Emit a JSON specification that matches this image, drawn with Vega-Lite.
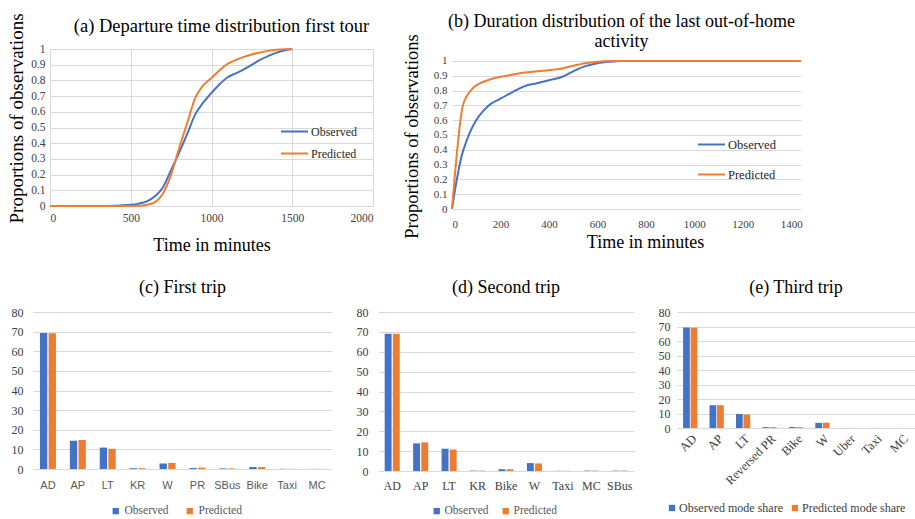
{
  "$schema": "https://vega.github.io/schema/vega-lite/v6.json",
  "background": "white",
  "padding": {"left": 7, "top": 12, "right": 0, "bottom": 0},
  "config": {
    "view": {"stroke": null},
    "font": "Liberation Serif",
    "axis": {"domain": false, "ticks": false, "tickSize": 0, "gridColor": "#d9d9d9", "gridWidth": 1, "labelFont": "Liberation Serif", "labelColor": "#404040", "titleFont": "Liberation Serif", "titleFontWeight": "normal", "titleColor": "#000000"},
    "title": {"font": "Liberation Serif", "fontWeight": "normal", "fontSize": 18, "color": "#000000", "anchor": "middle", "frame": "group", "baseline": "bottom"},
    "legend": {"labelFont": "Liberation Serif", "title": null}
  },
  "datasets": {
    "depart": [
      {"minutes": 0, "share": 0, "series": "Observed"},
      {"minutes": 100, "share": 0, "series": "Observed"},
      {"minutes": 200, "share": 0, "series": "Observed"},
      {"minutes": 300, "share": 0, "series": "Observed"},
      {"minutes": 400, "share": 0.002, "series": "Observed"},
      {"minutes": 450, "share": 0.004, "series": "Observed"},
      {"minutes": 500, "share": 0.008, "series": "Observed"},
      {"minutes": 550, "share": 0.015, "series": "Observed"},
      {"minutes": 600, "share": 0.03, "series": "Observed"},
      {"minutes": 650, "share": 0.062, "series": "Observed"},
      {"minutes": 700, "share": 0.12, "series": "Observed"},
      {"minutes": 750, "share": 0.23, "series": "Observed"},
      {"minutes": 800, "share": 0.34, "series": "Observed"},
      {"minutes": 850, "share": 0.46, "series": "Observed"},
      {"minutes": 900, "share": 0.585, "series": "Observed"},
      {"minutes": 950, "share": 0.66, "series": "Observed"},
      {"minutes": 1000, "share": 0.72, "series": "Observed"},
      {"minutes": 1050, "share": 0.775, "series": "Observed"},
      {"minutes": 1100, "share": 0.82, "series": "Observed"},
      {"minutes": 1150, "share": 0.845, "series": "Observed"},
      {"minutes": 1200, "share": 0.87, "series": "Observed"},
      {"minutes": 1250, "share": 0.9, "series": "Observed"},
      {"minutes": 1300, "share": 0.93, "series": "Observed"},
      {"minutes": 1350, "share": 0.955, "series": "Observed"},
      {"minutes": 1400, "share": 0.975, "series": "Observed"},
      {"minutes": 1450, "share": 0.99, "series": "Observed"},
      {"minutes": 1500, "share": 1.0, "series": "Observed"},
      {"minutes": 0, "share": 0, "series": "Predicted"},
      {"minutes": 100, "share": 0, "series": "Predicted"},
      {"minutes": 200, "share": 0, "series": "Predicted"},
      {"minutes": 300, "share": 0, "series": "Predicted"},
      {"minutes": 400, "share": 0, "series": "Predicted"},
      {"minutes": 500, "share": 0, "series": "Predicted"},
      {"minutes": 550, "share": 0.001, "series": "Predicted"},
      {"minutes": 600, "share": 0.008, "series": "Predicted"},
      {"minutes": 650, "share": 0.025, "series": "Predicted"},
      {"minutes": 700, "share": 0.08, "series": "Predicted"},
      {"minutes": 750, "share": 0.2, "series": "Predicted"},
      {"minutes": 800, "share": 0.37, "series": "Predicted"},
      {"minutes": 850, "share": 0.53, "series": "Predicted"},
      {"minutes": 900, "share": 0.69, "series": "Predicted"},
      {"minutes": 950, "share": 0.77, "series": "Predicted"},
      {"minutes": 1000, "share": 0.815, "series": "Predicted"},
      {"minutes": 1050, "share": 0.865, "series": "Predicted"},
      {"minutes": 1100, "share": 0.905, "series": "Predicted"},
      {"minutes": 1150, "share": 0.93, "series": "Predicted"},
      {"minutes": 1200, "share": 0.95, "series": "Predicted"},
      {"minutes": 1250, "share": 0.965, "series": "Predicted"},
      {"minutes": 1300, "share": 0.978, "series": "Predicted"},
      {"minutes": 1350, "share": 0.988, "series": "Predicted"},
      {"minutes": 1400, "share": 0.995, "series": "Predicted"},
      {"minutes": 1450, "share": 0.999, "series": "Predicted"},
      {"minutes": 1500, "share": 1.0, "series": "Predicted"}
    ],
    "duration": [
      {"minutes": 0, "share": 0, "series": "Observed"},
      {"minutes": 20, "share": 0.2, "series": "Observed"},
      {"minutes": 40, "share": 0.36, "series": "Observed"},
      {"minutes": 60, "share": 0.46, "series": "Observed"},
      {"minutes": 80, "share": 0.54, "series": "Observed"},
      {"minutes": 100, "share": 0.6, "series": "Observed"},
      {"minutes": 130, "share": 0.665, "series": "Observed"},
      {"minutes": 160, "share": 0.71, "series": "Observed"},
      {"minutes": 200, "share": 0.745, "series": "Observed"},
      {"minutes": 250, "share": 0.79, "series": "Observed"},
      {"minutes": 300, "share": 0.83, "series": "Observed"},
      {"minutes": 350, "share": 0.85, "series": "Observed"},
      {"minutes": 400, "share": 0.87, "series": "Observed"},
      {"minutes": 450, "share": 0.89, "series": "Observed"},
      {"minutes": 500, "share": 0.93, "series": "Observed"},
      {"minutes": 550, "share": 0.965, "series": "Observed"},
      {"minutes": 600, "share": 0.985, "series": "Observed"},
      {"minutes": 650, "share": 0.995, "series": "Observed"},
      {"minutes": 700, "share": 1.0, "series": "Observed"},
      {"minutes": 800, "share": 1.0, "series": "Observed"},
      {"minutes": 1000, "share": 1.0, "series": "Observed"},
      {"minutes": 1200, "share": 1.0, "series": "Observed"},
      {"minutes": 1440, "share": 1.0, "series": "Observed"},
      {"minutes": 0, "share": 0, "series": "Predicted"},
      {"minutes": 45, "share": 0.7, "series": "Predicted"},
      {"minutes": 60, "share": 0.76, "series": "Predicted"},
      {"minutes": 80, "share": 0.805, "series": "Predicted"},
      {"minutes": 100, "share": 0.835, "series": "Predicted"},
      {"minutes": 120, "share": 0.853, "series": "Predicted"},
      {"minutes": 150, "share": 0.872, "series": "Predicted"},
      {"minutes": 200, "share": 0.893, "series": "Predicted"},
      {"minutes": 250, "share": 0.908, "series": "Predicted"},
      {"minutes": 300, "share": 0.922, "series": "Predicted"},
      {"minutes": 350, "share": 0.93, "series": "Predicted"},
      {"minutes": 400, "share": 0.938, "series": "Predicted"},
      {"minutes": 450, "share": 0.948, "series": "Predicted"},
      {"minutes": 500, "share": 0.968, "series": "Predicted"},
      {"minutes": 550, "share": 0.985, "series": "Predicted"},
      {"minutes": 600, "share": 0.995, "series": "Predicted"},
      {"minutes": 650, "share": 1.0, "series": "Predicted"},
      {"minutes": 800, "share": 1.0, "series": "Predicted"},
      {"minutes": 1000, "share": 1.0, "series": "Predicted"},
      {"minutes": 1200, "share": 1.0, "series": "Predicted"},
      {"minutes": 1440, "share": 1.0, "series": "Predicted"}
    ],
    "trip1": [
      {"mode": "AD", "series": "Observed", "share": 69.3}, {"mode": "AD", "series": "Predicted", "share": 69.2},
      {"mode": "AP", "series": "Observed", "share": 14.4}, {"mode": "AP", "series": "Predicted", "share": 14.8},
      {"mode": "LT", "series": "Observed", "share": 10.9}, {"mode": "LT", "series": "Predicted", "share": 10.3},
      {"mode": "KR", "series": "Observed", "share": 0.4}, {"mode": "KR", "series": "Predicted", "share": 0.4},
      {"mode": "W", "series": "Observed", "share": 2.8}, {"mode": "W", "series": "Predicted", "share": 3.1},
      {"mode": "PR", "series": "Observed", "share": 0.5}, {"mode": "PR", "series": "Predicted", "share": 0.7},
      {"mode": "SBus", "series": "Observed", "share": 0.3}, {"mode": "SBus", "series": "Predicted", "share": 0.3},
      {"mode": "Bike", "series": "Observed", "share": 1.0}, {"mode": "Bike", "series": "Predicted", "share": 1.0},
      {"mode": "Taxi", "series": "Observed", "share": 0.1}, {"mode": "Taxi", "series": "Predicted", "share": 0.1},
      {"mode": "MC", "series": "Observed", "share": 0.05}, {"mode": "MC", "series": "Predicted", "share": 0.05}
    ],
    "trip2": [
      {"mode": "AD", "series": "Observed", "share": 69.1}, {"mode": "AD", "series": "Predicted", "share": 69.1},
      {"mode": "AP", "series": "Observed", "share": 13.9}, {"mode": "AP", "series": "Predicted", "share": 14.4},
      {"mode": "LT", "series": "Observed", "share": 11.2}, {"mode": "LT", "series": "Predicted", "share": 10.8},
      {"mode": "KR", "series": "Observed", "share": 0.2}, {"mode": "KR", "series": "Predicted", "share": 0.2},
      {"mode": "Bike", "series": "Observed", "share": 0.9}, {"mode": "Bike", "series": "Predicted", "share": 0.9},
      {"mode": "W", "series": "Observed", "share": 4.0}, {"mode": "W", "series": "Predicted", "share": 3.8},
      {"mode": "Taxi", "series": "Observed", "share": 0.1}, {"mode": "Taxi", "series": "Predicted", "share": 0.1},
      {"mode": "MC", "series": "Observed", "share": 0.2}, {"mode": "MC", "series": "Predicted", "share": 0.2},
      {"mode": "SBus", "series": "Observed", "share": 0.2}, {"mode": "SBus", "series": "Predicted", "share": 0.2}
    ],
    "trip3": [
      {"mode": "AD", "series": "Observed mode share", "share": 69.3}, {"mode": "AD", "series": "Predicted mode share", "share": 69.2},
      {"mode": "AP", "series": "Observed mode share", "share": 15.7}, {"mode": "AP", "series": "Predicted mode share", "share": 15.7},
      {"mode": "LT", "series": "Observed mode share", "share": 9.7}, {"mode": "LT", "series": "Predicted mode share", "share": 9.3},
      {"mode": "Reversed PR", "series": "Observed mode share", "share": 0.6}, {"mode": "Reversed PR", "series": "Predicted mode share", "share": 0.6},
      {"mode": "Bike", "series": "Observed mode share", "share": 0.7}, {"mode": "Bike", "series": "Predicted mode share", "share": 0.6},
      {"mode": "W", "series": "Observed mode share", "share": 3.5}, {"mode": "W", "series": "Predicted mode share", "share": 3.7},
      {"mode": "Uber", "series": "Observed mode share", "share": 0.05}, {"mode": "Uber", "series": "Predicted mode share", "share": 0.05},
      {"mode": "Taxi", "series": "Observed mode share", "share": 0.05}, {"mode": "Taxi", "series": "Predicted mode share", "share": 0.05},
      {"mode": "MC", "series": "Observed mode share", "share": 0.05}, {"mode": "MC", "series": "Predicted mode share", "share": 0.05}
    ],
    "empty": []
  },
  "spacing": 24,
  "resolve": {"scale": {"color": "independent", "x": "independent", "y": "independent", "xOffset": "independent"}, "legend": {"color": "independent"}},
  "vconcat": [
    {
      "spacing": -27,
      "resolve": {"scale": {"color": "independent", "x": "independent", "y": "independent"}, "legend": {"color": "independent"}},
      "hconcat": [
        {
          "width": 1,
          "height": 1,
          "data": {"name": "empty"},
          "mark": {"type": "point", "opacity": 0},
          "encoding": {}
        },
        {
          "spacing": 29,
          "resolve": {"scale": {"color": "independent", "x": "independent", "y": "independent"}, "legend": {"color": "independent"}},
          "hconcat": [
            {
              "width": 323,
              "height": 157,
              "title": {"text": "(a) Departure time distribution first tour", "offset": -23, "dx": 10, "fontSize": 18.5},
              "data": {"name": "depart"},
              "mark": {"type": "line", "interpolate": "monotone", "strokeWidth": 2},
              "encoding": {
                "x": {"field": "minutes", "type": "quantitative", "scale": {"domain": [0, 2000], "nice": false},
                  "axis": {"values": [0, 500, 1000, 1500, 2000], "format": "d", "grid": true, "title": "Time in minutes", "labelFontSize": 11.5, "labelPadding": 6, "titleFontSize": 18, "titlePadding": 13}},
                "y": {"field": "share", "type": "quantitative", "scale": {"domain": [0, 1], "nice": false},
                  "axis": {"values": [0, 0.1, 0.2, 0.3, 0.4, 0.5, 0.6, 0.7, 0.8, 0.9, 1], "format": ".1~f", "title": "Proportions of observations", "labelFontSize": 11.5, "labelPadding": 5, "titleFontSize": 19, "titlePadding": 4, "titleY": 69}},
                "color": {"field": "series", "type": "nominal", "scale": {"domain": ["Observed", "Predicted"], "range": ["#4472C4", "#ED7D31"]},
                  "legend": {"orient": "none", "legendX": 230, "legendY": 68, "symbolType": "stroke", "symbolSize": 729, "symbolStrokeWidth": 2, "labelFontSize": 12, "labelColor": "#262626", "rowPadding": 1, "labelOffset": 2}}
              }
            },
            {
              "width": 349,
              "height": 160,
              "title": {"text": ["(b) Duration distribution of the last out-of-home", "activity"], "offset": -17, "dx": -5, "lineHeight": 20},
              "data": {"name": "duration"},
              "mark": {"type": "line", "interpolate": "monotone", "strokeWidth": 2},
              "encoding": {
                "x": {"field": "minutes", "type": "quantitative", "scale": {"domain": [0, 1440], "nice": false},
                  "axis": {"values": [0, 200, 400, 600, 800, 1000, 1200, 1400], "format": "d", "grid": false, "title": "Time in minutes", "labelFontSize": 11, "labelPadding": 9, "titleFontSize": 18, "titlePadding": 4, "titleX": 193}},
                "y": {"field": "share", "type": "quantitative", "scale": {"domain": [0, 1.081], "nice": false},
                  "axis": {"values": [0, 0.1, 0.2, 0.3, 0.4, 0.5, 0.6, 0.7, 0.8, 0.9, 1], "format": ".1~f", "title": "Proportions of observations", "labelFontSize": 11, "labelPadding": 5, "titleFontSize": 18.5, "titlePadding": 12, "titleY": 87}},
                "color": {"field": "series", "type": "nominal", "scale": {"domain": ["Observed", "Predicted"], "range": ["#4472C4", "#ED7D31"]},
                  "legend": {"orient": "none", "legendX": 245, "legendY": 81, "symbolType": "stroke", "symbolSize": 729, "symbolStrokeWidth": 2, "labelFontSize": 12.5, "labelColor": "#262626", "rowPadding": 9, "labelOffset": 2}}
              }
            }
          ]
        }
      ]
    },
    {
      "spacing": 24,
      "resolve": {"scale": {"color": "independent", "x": "independent", "y": "independent", "xOffset": "independent"}, "legend": {"color": "independent"}},
      "hconcat": [
        {
          "width": 299,
          "height": 157,
          "title": {"text": "(c) First trip", "offset": 9},
          "data": {"name": "trip1"},
          "mark": {"type": "bar"},
          "encoding": {
            "x": {"field": "mode", "type": "nominal", "sort": null, "scale": {"paddingInner": 0.465, "paddingOuter": 0.2325},
              "axis": {"title": null, "labelAngle": 0, "labelFont": "Liberation Sans", "labelFontSize": 11, "labelColor": "#595959", "labelPadding": 10}},
            "xOffset": {"field": "series", "type": "nominal", "sort": ["Observed", "Predicted"], "scale": {"paddingInner": 0.15}},
            "y": {"field": "share", "type": "quantitative", "scale": {"domain": [0, 80], "nice": false},
              "axis": {"values": [0, 10, 20, 30, 40, 50, 60, 70, 80], "title": null, "labelFontSize": 12, "labelPadding": 10, "grid": true}},
            "color": {"field": "series", "type": "nominal", "scale": {"domain": ["Observed", "Predicted"], "range": ["#4472C4", "#ED7D31"]},
              "legend": {"orient": "none", "direction": "horizontal", "legendX": 77, "legendY": 193, "symbolType": "square", "symbolSize": 40, "symbolStrokeWidth": 0, "labelFontSize": 11.5, "labelColor": "#595959", "columnPadding": 15, "labelOffset": 3}}
          }
        },
        {
          "width": 256,
          "height": 159,
          "title": {"text": "(d) Second trip", "offset": 9},
          "data": {"name": "trip2"},
          "mark": {"type": "bar"},
          "encoding": {
            "x": {"field": "mode", "type": "nominal", "sort": null, "scale": {"paddingInner": 0.47, "paddingOuter": 0.235},
              "axis": {"title": null, "labelAngle": 0, "labelFontSize": 12, "labelColor": "#404040", "labelPadding": 9}},
            "xOffset": {"field": "series", "type": "nominal", "sort": ["Observed", "Predicted"], "scale": {"paddingInner": 0.15}},
            "y": {"field": "share", "type": "quantitative", "scale": {"domain": [0, 80], "nice": false},
              "axis": {"values": [0, 10, 20, 30, 40, 50, 60, 70, 80], "title": null, "labelFontSize": 12, "labelPadding": 10, "grid": true}},
            "color": {"field": "series", "type": "nominal", "scale": {"domain": ["Observed", "Predicted"], "range": ["#4472C4", "#ED7D31"]},
              "legend": {"orient": "none", "direction": "horizontal", "legendX": 53, "legendY": 193, "symbolType": "square", "symbolSize": 40, "symbolStrokeWidth": 0, "labelFontSize": 11.5, "labelColor": "#595959", "columnPadding": 11, "labelOffset": 2}}
          }
        },
        {
          "width": 238,
          "height": 116,
          "title": {"text": "(e) Third trip", "offset": 9},
          "data": {"name": "trip3"},
          "mark": {"type": "bar"},
          "encoding": {
            "x": {"field": "mode", "type": "nominal", "sort": null, "scale": {"paddingInner": 0.46, "paddingOuter": 0.23},
              "axis": {"title": null, "labelAngle": -45, "labelFontSize": 12.5, "labelColor": "#404040", "labelPadding": 4}},
            "xOffset": {"field": "series", "type": "nominal", "sort": ["Observed mode share", "Predicted mode share"], "scale": {"paddingInner": 0.1}},
            "y": {"field": "share", "type": "quantitative", "scale": {"domain": [0, 80], "nice": false},
              "axis": {"values": [0, 10, 20, 30, 40, 50, 60, 70, 80], "title": null, "labelFontSize": 12, "labelPadding": 7, "grid": true}},
            "color": {"field": "series", "type": "nominal", "scale": {"domain": ["Observed mode share", "Predicted mode share"], "range": ["#4472C4", "#ED7D31"]},
              "legend": {"orient": "none", "direction": "horizontal", "legendX": -11, "legendY": 190, "symbolType": "square", "symbolSize": 40, "symbolStrokeWidth": 0, "labelFontSize": 12, "labelColor": "#404040", "columnPadding": 6, "labelOffset": 1}}
          }
        }
      ]
    }
  ]
}
